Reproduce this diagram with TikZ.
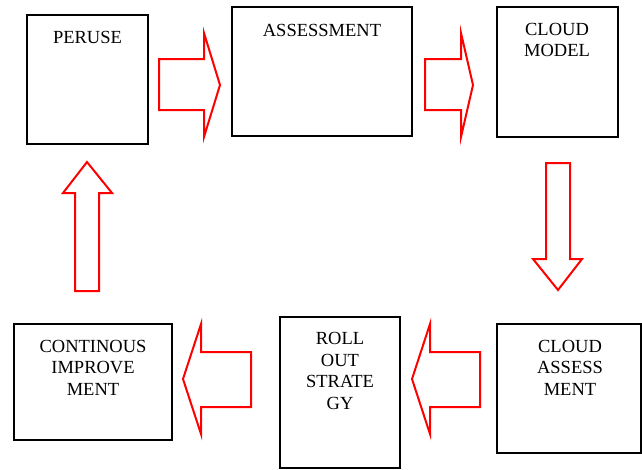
\documentclass[tikz,border=0pt]{standalone}
\usepackage{fontspec}
\setmainfont{Liberation Serif}
\begin{document}
\begin{tikzpicture}[x=1pt,y=-1pt,
  box/.style={draw=black,line width=2pt},
  lbl/.style={align=center,inner sep=0pt,font=\fontsize{18.5pt}{21.5pt}\selectfont},
  blockarrow/.style={draw=red,line width=2pt,line join=miter}]
\useasboundingbox (0,0) rectangle (642,469);
% boxes
\draw[box] (27,15) rectangle (148,144);
\node[lbl] (peruse) at (87.5,37) {PERUSE};
\draw[box] (232,7) rectangle (412,136);
\node[lbl] (assess) at (322,30) {ASSESSMENT};
\draw[box] (497,7) rectangle (618,137);
\node[lbl] (cmodel) at (557,40) {CLOUD\\MODEL};
\draw[box] (14,324) rectangle (172,440);
\node[lbl] (contin) at (93,367.5) {CONTINOUS\\IMPROVE\\MENT};
\draw[box] (280,317) rectangle (400,468);
\node[lbl] (rollout) at (340,371) {ROLL\\OUT\\STRATE\\GY};
\draw[box] (497,324) rectangle (640.5,453);
\node[lbl] (cassess) at (570,367.5) {CLOUD\\ASSESS\\MENT};
% block arrows
\draw[blockarrow] (159,59) -- (204,59) -- (204,33) -- (220,85) -- (204,137) -- (204,110) -- (159,110) -- cycle;
\draw[blockarrow] (425,59) -- (461,59) -- (461,33) -- (473,85) -- (461,137) -- (461,110) -- (425,110) -- cycle;
\draw[blockarrow] (546,163) -- (570,163) -- (570,259) -- (582,259) -- (558,290) -- (533,259) -- (546,259) -- cycle;
\draw[blockarrow] (412,379) -- (430,324) -- (430,352) -- (480,352) -- (480,407) -- (430,407) -- (430,434) -- cycle;
\draw[blockarrow] (183,379) -- (201,324) -- (201,352) -- (251,352) -- (251,407) -- (201,407) -- (201,434) -- cycle;
\draw[blockarrow] (87,162) -- (112,193) -- (99,193) -- (99,291) -- (75,291) -- (75,193) -- (63,193) -- cycle;
\end{tikzpicture}
\end{document}
